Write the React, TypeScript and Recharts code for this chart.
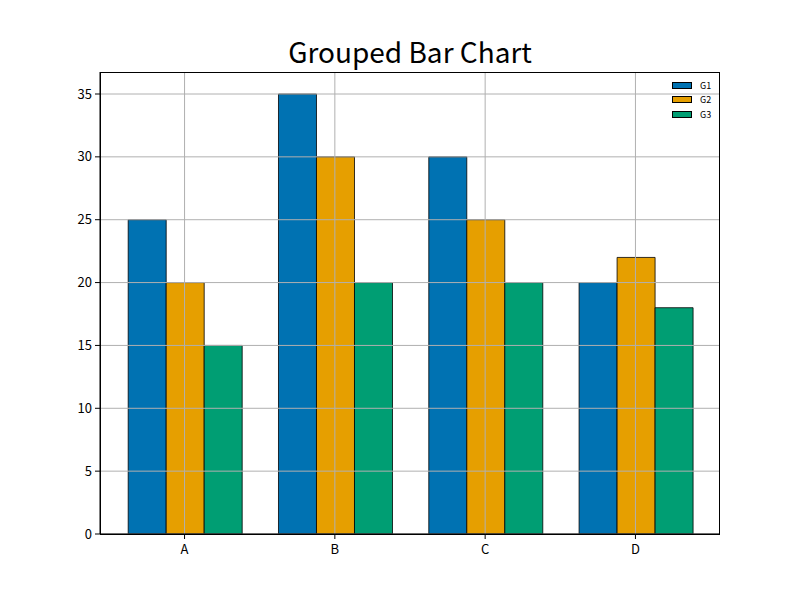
import React from "react";
import { BarChart, Bar, XAxis, YAxis, ReferenceLine } from "recharts";

const categories = ["A", "B", "C", "D"];
const g1 = [25, 35, 30, 20];
const g2 = [20, 30, 25, 22];
const g3 = [15, 20, 20, 18];
const yTicks = [0, 5, 10, 15, 20, 25, 30, 35];
const seriesNames = ["G1", "G2", "G3"];
const colors = ["#0072B2", "#E69F00", "#009E73"];

const data = categories.map((c, i) => ({ cat: c, G1: g1[i], G2: g2[i], G3: g3[i] }));

const FONT = '"Noto Sans CJK JP", "Noto Sans", sans-serif';
const GRID = "#b0b0b0";

const LegendBox = () => (
  <div
    style={{
      position: "absolute",
      left: 672,
      top: 78,
      fontFamily: FONT,
      fontSize: 9,
      color: "#000",
      pointerEvents: "none",
    }}
  >
    {seriesNames.map((n, i) => (
      <div key={n} style={{ display: "flex", alignItems: "center", height: 14.5 }}>
        <div
          style={{
            width: 20,
            height: 7,
            background: colors[i],
            border: "0.8px solid #000",
            boxSizing: "border-box",
            marginRight: 8,
          }}
        />
        <span>{n}</span>
      </div>
    ))}
  </div>
);

export default function App() {
  return (
    <div style={{ position: "absolute", left: 0, top: 0, width: 800, height: 600, background: "#fff" }}>
      <div
        style={{
          position: "absolute",
          left: 100,
          width: 620,
          top: 31,
          textAlign: "center",
          fontFamily: FONT,
          fontSize: 28,
          color: "#000",
          lineHeight: "40px",
        }}
      >
        Grouped Bar Chart
      </div>
      <BarChart
        width={800}
        height={600}
        data={data}
        margin={{ top: 72, right: 80, left: 0, bottom: 36 }}
        barGap={0}
        barCategoryGap="12.5%"
      >
        <XAxis
          dataKey="cat"
          padding={{ left: 9.4, right: 9.4 }}
          height={30}
          tickSize={5}
          tickMargin={6}
          stroke="#000"
          tick={{ fill: "#000", fontSize: 13, fontFamily: FONT }}
          axisLine={{ stroke: "#000", strokeWidth: 1 }}
        />
        <YAxis
          width={100}
          domain={[0, 36.75]}
          ticks={yTicks}
          tickSize={5}
          tickMargin={3}
          stroke="#000"
          allowDataOverflow
          tick={{ fill: "#000", fontSize: 13, fontFamily: FONT }}
          axisLine={{ stroke: "#000", strokeWidth: 1 }}
        />
        {seriesNames.map((n, i) => (
          <Bar
            key={n}
            dataKey={n}
            fill={colors[i]}
            stroke="#000"
            strokeWidth={0.8}
            isAnimationActive={false}
          />
        ))}
        {yTicks.map((t) => (
          <ReferenceLine key={"y" + t} y={t} stroke={GRID} strokeWidth={1} />
        ))}
        {categories.map((c) => (
          <ReferenceLine key={"x" + c} x={c} stroke={GRID} strokeWidth={1} />
        ))}
      </BarChart>
      <LegendBox />
      <div
        style={{
          position: "absolute",
          left: 100,
          top: 72,
          width: 620,
          height: 463,
          border: "1px solid #000",
          boxSizing: "border-box",
          pointerEvents: "none",
        }}
      />
    </div>
  );
}
